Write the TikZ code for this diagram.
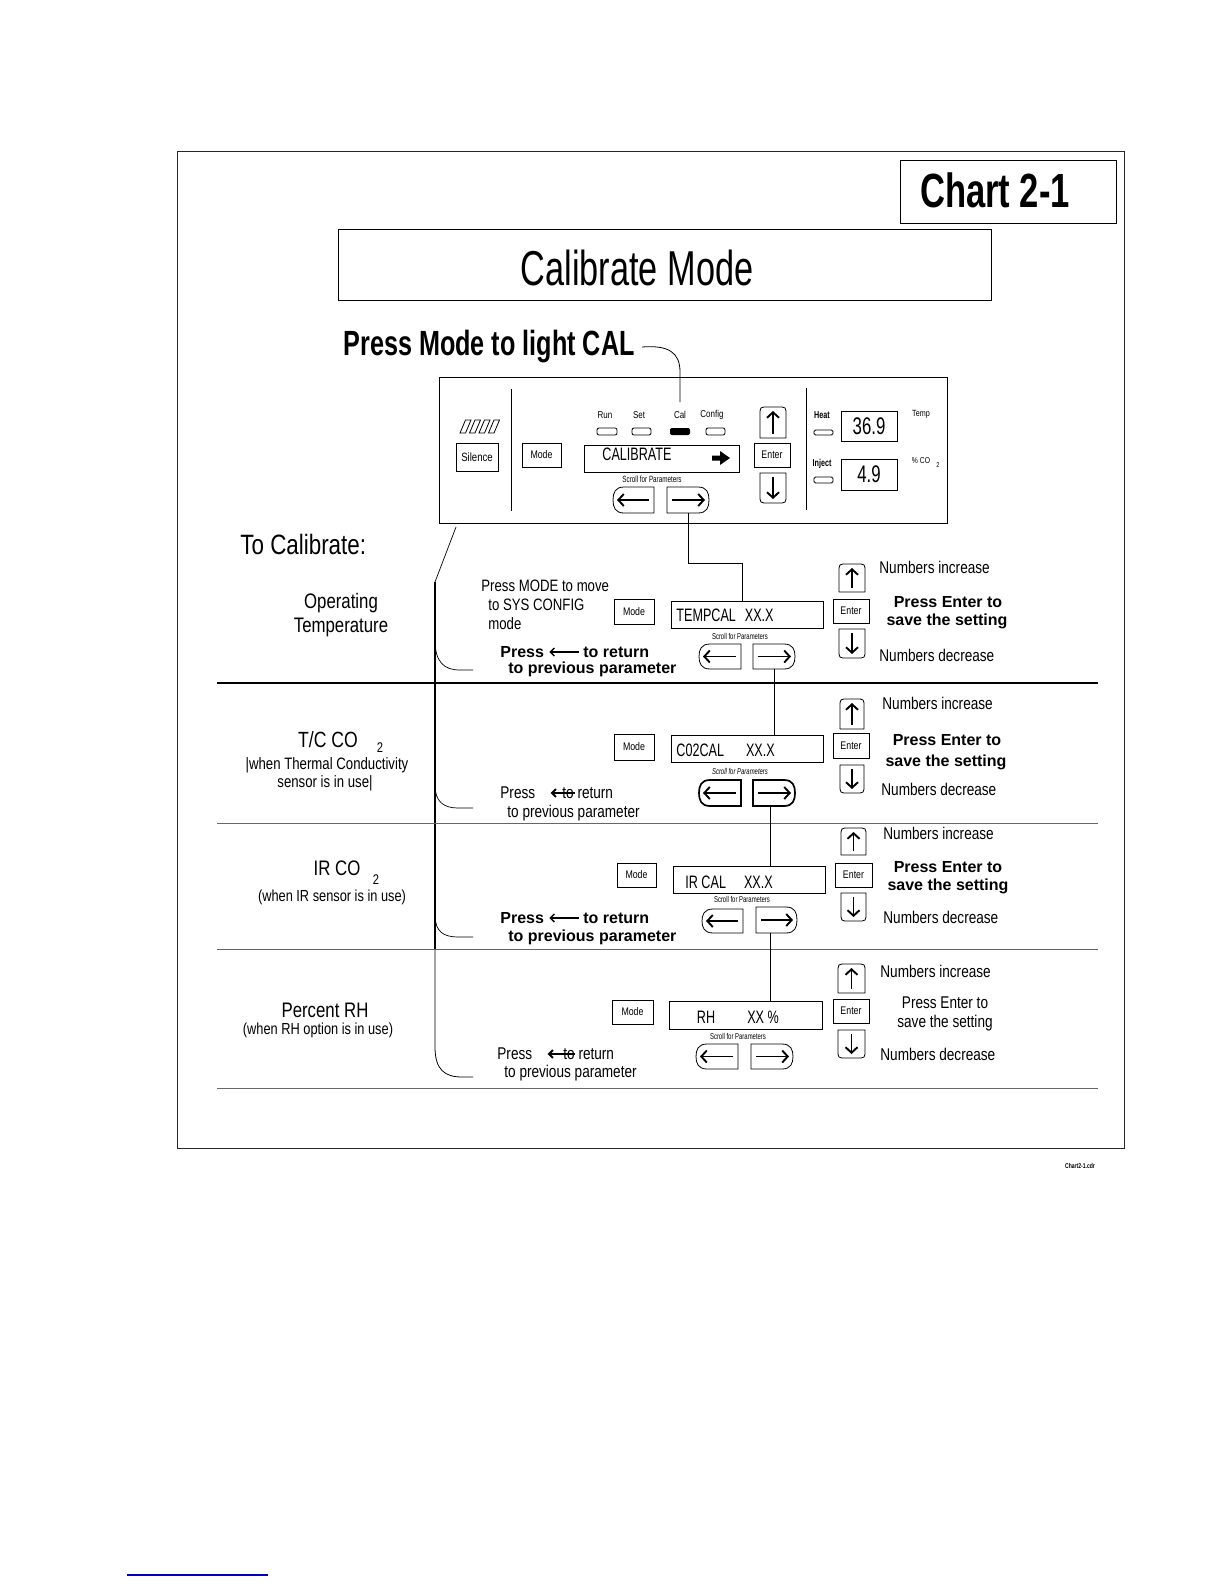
\documentclass[tikz,border=0pt]{standalone}
\usepackage{fontspec}
\setmainfont{Liberation Sans}
\newfontfamily\lc[FakeStretch=0.8]{Liberation Sans}
\newfontfamily\lcc[FakeStretch=0.7]{Liberation Sans}
\newfontfamily\bcn[FakeStretch=0.72]{Liberation Sans}
\usetikzlibrary{arrows.meta}
\newcommand\fsz[1]{\fontsize{#1}{#1}\selectfont}
% up button: name x1 y1 x2 y2
\newcommand\upb[5]{%
 \node[inner sep=0,minimum width={#4-#2},minimum height={#5-#3}] (#1) at ({(#2+#4)/2},{(#3+#5)/2}) {};
 \draw (#2,#5) -- (#2,#3+8) .. controls (#2,#3) .. (#2+8,#3) -- (#4-8,#3) .. controls (#4,#3) .. (#4,#3+8) -- (#4,#5) -- cycle;
 \draw[btnarr] ({(#2+#4)/2},#5-4) -- ({(#2+#4)/2},#3+4);}
\newcommand\dnb[5]{%
 \node[inner sep=0,minimum width={#4-#2},minimum height={#5-#3}] (#1) at ({(#2+#4)/2},{(#3+#5)/2}) {};
 \draw (#2,#3) -- (#4,#3) -- (#4,#5-8) .. controls (#4,#5) .. (#4-8,#5) -- (#2+8,#5) .. controls (#2,#5) .. (#2,#5-8) -- cycle;
 \draw[btnarr] ({(#2+#4)/2},#3+4) -- ({(#2+#4)/2},#5-4);}
\newcommand\lbtn[5]{%
 \node[inner sep=0,minimum width={#4-#2},minimum height={#5-#3}] (#1) at ({(#2+#4)/2},{(#3+#5)/2}) {};
 \draw (#4,#3) -- (#2+11,#3) .. controls (#2+2,#3) and (#2,#3+6) .. (#2,{(#3+#5)/2}) .. controls (#2,#5-6) and (#2+2,#5) .. (#2+11,#5) -- (#4,#5) -- cycle;
 \draw[btnarr] (#4-5,{(#3+#5)/2}) -- (#2+4,{(#3+#5)/2});}
\newcommand\rbtn[5]{%
 \node[inner sep=0,minimum width={#4-#2},minimum height={#5-#3}] (#1) at ({(#2+#4)/2},{(#3+#5)/2}) {};
 \draw (#2,#3) -- (#4-11,#3) .. controls (#4-2,#3) and (#4,#3+6) .. (#4,{(#3+#5)/2}) .. controls (#4,#5-6) and (#4-2,#5) .. (#4-11,#5) -- (#2,#5) -- cycle;
 \draw[btnarr] (#2+5,{(#3+#5)/2}) -- (#4-4,{(#3+#5)/2});}
% box node: name x1 y1 x2 y2 text size
\newcommand\kb[7]{\node[kbox, font=\lc\fsz{#7}, minimum width={#4-#2}, minimum height={#5-#3}] (#1) at ({(#2+#4)/2},{(#3+#5)/2}) {#6};}
\newcommand\dsp[5]{\node[draw, inner sep=0, minimum width={#4-#2}, minimum height={#5-#3}] (#1) at ({(#2+#4)/2},{(#3+#5)/2}) {};}

\begin{document}
\begin{tikzpicture}[x=1pt,y=-1pt, line width=0.8pt,
  lite/.style={inner sep=0, font=\lc\fsz{#1}}, lite/.default=17,
  cond/.style={inner sep=0, font=\lcc\fsz{#1}}, cond/.default=18,
  boldtxt/.style={inner sep=0, font=\bfseries\fsz{#1}}, boldtxt/.default=16,
  bcond/.style={inner sep=0, font=\bcn\bfseries\fsz{#1}},
  btnarr/.style={line width=1.9pt, -{Straight Barb[length=5.5pt,width=12pt]}},
  txtarr/.style={line width=1.4pt, -{Straight Barb[length=4pt,width=8pt]}},
  sepline/.style={line width=0.8pt, black!60},
  kbox/.style={draw, inner sep=0}
]
\useasboundingbox (0,0) rectangle (1224,1584);

% frame
\draw[black!85] (177,151) rectangle (1124,1148);

% chart box
\node[draw, inner sep=0, minimum width=216, minimum height=63] (chartbox) at (1008,191.5) {};
\node[bcond=48] (charttxt) at (995,190) {Chart 2-1};

% title
\node[draw, inner sep=0, minimum width=653, minimum height=71] (titlebox) at (664.5,264.5) {};
\node[cond=49] (titletxt) at (637,268) {Calibrate Mode};

\node[bcond=35, anchor=west] (pm) at (343,347) {Press Mode to light CAL};

% panel
\node[draw, inner sep=0, minimum width=508, minimum height=146] (panel) at (693,450) {};
\foreach \i in {0,1,2,3}
  \draw ({460+9.5*\i},433) -- ({465.5+9.5*\i},433) -- ({471+9.5*\i},420) -- ({465.5+9.5*\i},420) -- cycle;
\kb{silence}{456}{443}{498}{471}{Silence}{12}
\draw (511,389) -- (511,511);
\kb{mode0}{522}{443}{561}{467}{Mode}{11}
\node[lite=10] (run) at (605,415) {Run};
\node[lite=10] (set) at (639,415) {Set};
\node[lite=10] (cal) at (680,415) {Cal};
\node[lite=10] (config) at (712,415) {Config};
\draw[rounded corners=2pt] (597,428) rectangle (617,435);
\draw[rounded corners=2pt] (632,428) rectangle (651,435);
\fill[rounded corners=2pt] (670,428) rectangle (690,435);
\draw[rounded corners=2pt] (706,428) rectangle (725,435);
\dsp{d0}{584}{445}{739}{472}
\node[cond=18] (caltxt) at (637,454) {CALIBRATE};
\fill (712,455.5) -- (720,455.5) -- (720,451) -- (730,458) -- (720,465) -- (720,460.5) -- (712,460.5) -- cycle;
\node[cond=9] (scroll0) at (652,479) {Scroll for Parameters};
\lbtn{lb0}{613}{487}{654}{513}
\rbtn{rb0}{667}{487}{709}{513}
\upb{up0}{760}{407}{786}{438}
\kb{ent0}{754}{443}{790}{467}{Enter}{11}
\dnb{dn0}{760}{473}{786}{503}
\draw (806,388) -- (806,510);
\node[boldtxt=9, font=\bcn\bfseries\fsz{10}] (heat) at (822,415) {Heat};
\draw[rounded corners=1.5pt] (814,430) rectangle (833,435);
\node[boldtxt=9, font=\bcn\bfseries\fsz{10}] (inject) at (822,464) {Inject};
\draw[rounded corners=1.5pt] (814,477) rectangle (833,483);
\dsp{tempbox}{841}{411}{897}{441}
\node[cond=24] (tempval) at (869,426) {36.9};
\dsp{co2box}{841}{459}{897}{490}
\node[cond=24] (co2val) at (869,474) {4.9};
\node[lite=9] (templbl) at (921,414) {Temp};
\node[lite=8.5] (co2lbl) at (921,461) {\% CO};
\node[lite=7] (co2sub) at (938,465) {2};

% leader from text to Cal
\coordinate (calpt) at (680,402);
\draw ([xshift=7pt]pm.east) .. controls (668,345) and (680,352) .. (680,372) -- (calpt);

\node[lite=28, anchor=west] (tocal) at (240,544) {To Calibrate:};

% trunk
\coordinate (tk0) at (456,527);
\coordinate (tk1) at (435,582);
\coordinate (e1) at (473,670);
\coordinate (e2) at (473,808);
\coordinate (e3) at (473,937);
\coordinate (e4) at (473,1077);
\draw[line width=0.7pt] (tk0) -- (tk1);
\draw[line width=1.4pt] (tk1) -- (435,949);
\draw[line width=0.8pt] (435,949) -- (435,1047) .. controls (435,1070) and (445,1077) .. (462,1077) -- (e4);
\draw[line width=0.7pt] (435,640) .. controls (435,662) and (444,670) .. (460,670) -- (e1);
\draw[line width=0.7pt] (435,785) .. controls (435,802) and (444,808) .. (458,808) -- (e2);
\draw[line width=0.7pt] (435,915) .. controls (435,932) and (444,937) .. (458,937) -- (e3);

% separators
\draw[line width=1.1pt] (217,683) -- (1098,683);
\draw[sepline] (217,823) -- (1098,823);
\draw[sepline] (217,949) -- (1098,949);
\draw[sepline] (217,1088) -- (1098,1088);

% ---------- row 1
\node[lite=21] (op1) at (341,603) {Operating};
\node[lite=21] (op2) at (341,627) {Temperature};
\node[lite=16.5, anchor=west] (pmode1) at (481,586) {Press MODE to move};
\node[lite=16.5, anchor=west] (pmode2) at (488,605) {to SYS CONFIG};
\node[lite=16.5, anchor=west] (pmode3) at (488,624) {mode};
\kb{m1}{614}{599}{654}{624}{Mode}{11}
\dsp{d1}{671}{601}{823}{628}
\node[cond=18, anchor=west] (d1t) at (676,615) {TEMPCAL\hspace{9pt}XX.X};
\node[cond=8.5] (sc1) at (740,636) {Scroll for Parameters};
\lbtn{lb1}{699}{644}{741}{669}
\rbtn{rb1}{753}{644}{795}{669}
\upb{up1}{839}{564}{865}{592}
\kb{en1}{833}{599}{869}{623}{Enter}{11}
\dnb{dn1}{839}{629}{865}{658}
\node[lite, anchor=west] (ni1) at (879,567) {Numbers increase};
\node[lite, anchor=west] (nd1) at (879,655) {Numbers decrease};
\node[boldtxt] (pe1) at (948,602) {Press Enter to};
\node[boldtxt] (ss1) at (947,621) {save the setting};
\node[boldtxt, anchor=west] (pr1a) at (500,652) {Press};
\node[boldtxt, anchor=west] (pr1b) at (583,652) {to return};
\draw[txtarr] ([xshift=-4pt]pr1b.west) -- ([xshift=5pt]pr1a.east);
\node[boldtxt, anchor=west] (pp1) at (508,669) {to previous parameter};

% connector panel -> row 1
\coordinate (bend0) at (742,563);
\draw (rb0.south) |- (bend0) -- (bend0 |- d1.north);

% ---------- row 2
\node[lite=22] (tc1) at (328,740) {T/C CO};
\node[lite=14] (tc2) at (380,748) {2};
\node[lite=16.5] (tc3) at (327,765) {|when Thermal Conductivity};
\node[lite=16.5] (tc4) at (325,783) {sensor is in use|};
\kb{m2}{614}{734}{654}{760}{Mode}{11}
\dsp{d2}{671}{735}{823}{762}
\node[cond=18, anchor=west] (d2t) at (676,750) {C02CAL\hspace{22pt}XX.X};
\node[cond=8.5, font=\lcc\itshape\fsz{8.5}] (sc2) at (740,771) {Scroll for Parameters};
\begin{scope}[line width=1.7pt]
\lbtn{lb2}{699}{780}{741}{806}
\rbtn{rb2}{753}{780}{795}{806}
\end{scope}
\upb{up2}{840}{699}{864}{729}
\kb{en2}{833}{733}{869}{758}{Enter}{11}
\dnb{dn2}{840}{765}{864}{793}
\node[lite, anchor=west] (ni2) at (882,703) {Numbers increase};
\node[lite, anchor=west] (nd2) at (881,789) {Numbers decrease};
\node[boldtxt] (pe2) at (947,740) {Press Enter to};
\node[boldtxt] (ss2) at (946,762) {save the setting};
\node[lite, anchor=west] (pr2a) at (500,793) {Press};
\node[lite, anchor=west] (pr2b) at (562,793) {to return};
\draw[txtarr, line width=2pt] ([xshift=13pt]pr2b.west) -- ([xshift=15pt]pr2a.east);
\node[lite, anchor=west] (pp2) at (507,813) {to previous parameter};
\draw (rb1.south) -- (rb1.south |- d2.north);

% ---------- row 3
\node[lite=21] (ir1) at (337,868) {IR CO};
\node[lite=14] (ir2) at (376,880) {2};
\node[lite=16] (ir3) at (332,897) {(when IR sensor is in use)};
\kb{m3}{617}{863}{656}{887}{Mode}{11}
\dsp{d3}{673}{866}{825}{893}
\node[cond=18, anchor=west] (d3t) at (685,882) {IR CAL\hspace{18pt}XX.X};
\node[cond=8.5] (sc3) at (742,899) {Scroll for Parameters};
\lbtn{lb3}{702}{909}{743}{933}
\rbtn{rb3}{756}{907}{797}{933}
\upb{up3}{841}{828}{866}{855}
\kb{en3}{835}{863}{872}{887}{Enter}{11}
\dnb{dn3}{841}{893}{866}{921}
\node[lite, anchor=west] (ni3) at (883,833) {Numbers increase};
\node[lite, anchor=west] (nd3) at (883,917) {Numbers decrease};
\node[boldtxt] (pe3) at (948,867) {Press Enter to};
\node[boldtxt] (ss3) at (948,886) {save the setting};
\node[boldtxt, anchor=west] (pr3a) at (500,918) {Press};
\node[boldtxt, anchor=west] (pr3b) at (583,918) {to return};
\draw[txtarr] ([xshift=-4pt]pr3b.west) -- ([xshift=5pt]pr3a.east);
\node[boldtxt, anchor=west] (pp3) at (508,937) {to previous parameter};
\draw ([xshift=-4pt]rb2.south) -- ([xshift=-4pt]rb2.south |- d3.north);

% ---------- row 4
\node[lite=21] (rh1) at (325,1010) {Percent RH};
\node[lite=16] (rh2) at (318,1030) {(when RH option is in use)};
\kb{m4}{612}{1000}{653}{1024}{Mode}{11}
\dsp{d4}{669}{1001}{822}{1029}
\node[cond=18] (d4a) at (706,1017) {RH};
\node[cond=18] (d4b) at (763,1017) {XX \%};
\node[cond=8.5] (sc4) at (738,1036) {Scroll for Parameters};
\lbtn{lb4}{696}{1044}{738}{1069}
\rbtn{rb4}{751}{1044}{793}{1069}
\upb{up4}{838}{964}{865}{993}
\kb{en4}{833}{999}{869}{1023}{Enter}{11}
\dnb{dn4}{838}{1030}{865}{1058}
\node[lite, anchor=west] (ni4) at (880,971) {Numbers increase};
\node[lite, anchor=west] (nd4) at (880,1054) {Numbers decrease};
\node[lite] (pe4) at (945,1003) {Press Enter to};
\node[lite] (ss4) at (945,1023) {save the setting};
\node[lite, anchor=west] (pr4a) at (497,1054) {Press};
\node[lite, anchor=west] (pr4b) at (563,1054) {to return};
\draw[txtarr, line width=2pt] ([xshift=12pt]pr4b.west) -- ([xshift=15pt]pr4a.east);
\node[lite, anchor=west] (pp4) at (504,1073) {to previous parameter};
\draw ([xshift=-6pt]rb3.south) -- ([xshift=-6pt]rb3.south |- d4.north);

% footer
\node[lite=7, font=\bcn\bfseries\fsz{7}] (cdr) at (1080,1166) {Chart2-1.cdr};
\coordinate (ul0) at (127,1575);
\coordinate (ul1) at (268,1575);
\draw[blue!75!black, line width=1.2pt] (ul0) -- (ul1);
\end{tikzpicture}
\end{document}
